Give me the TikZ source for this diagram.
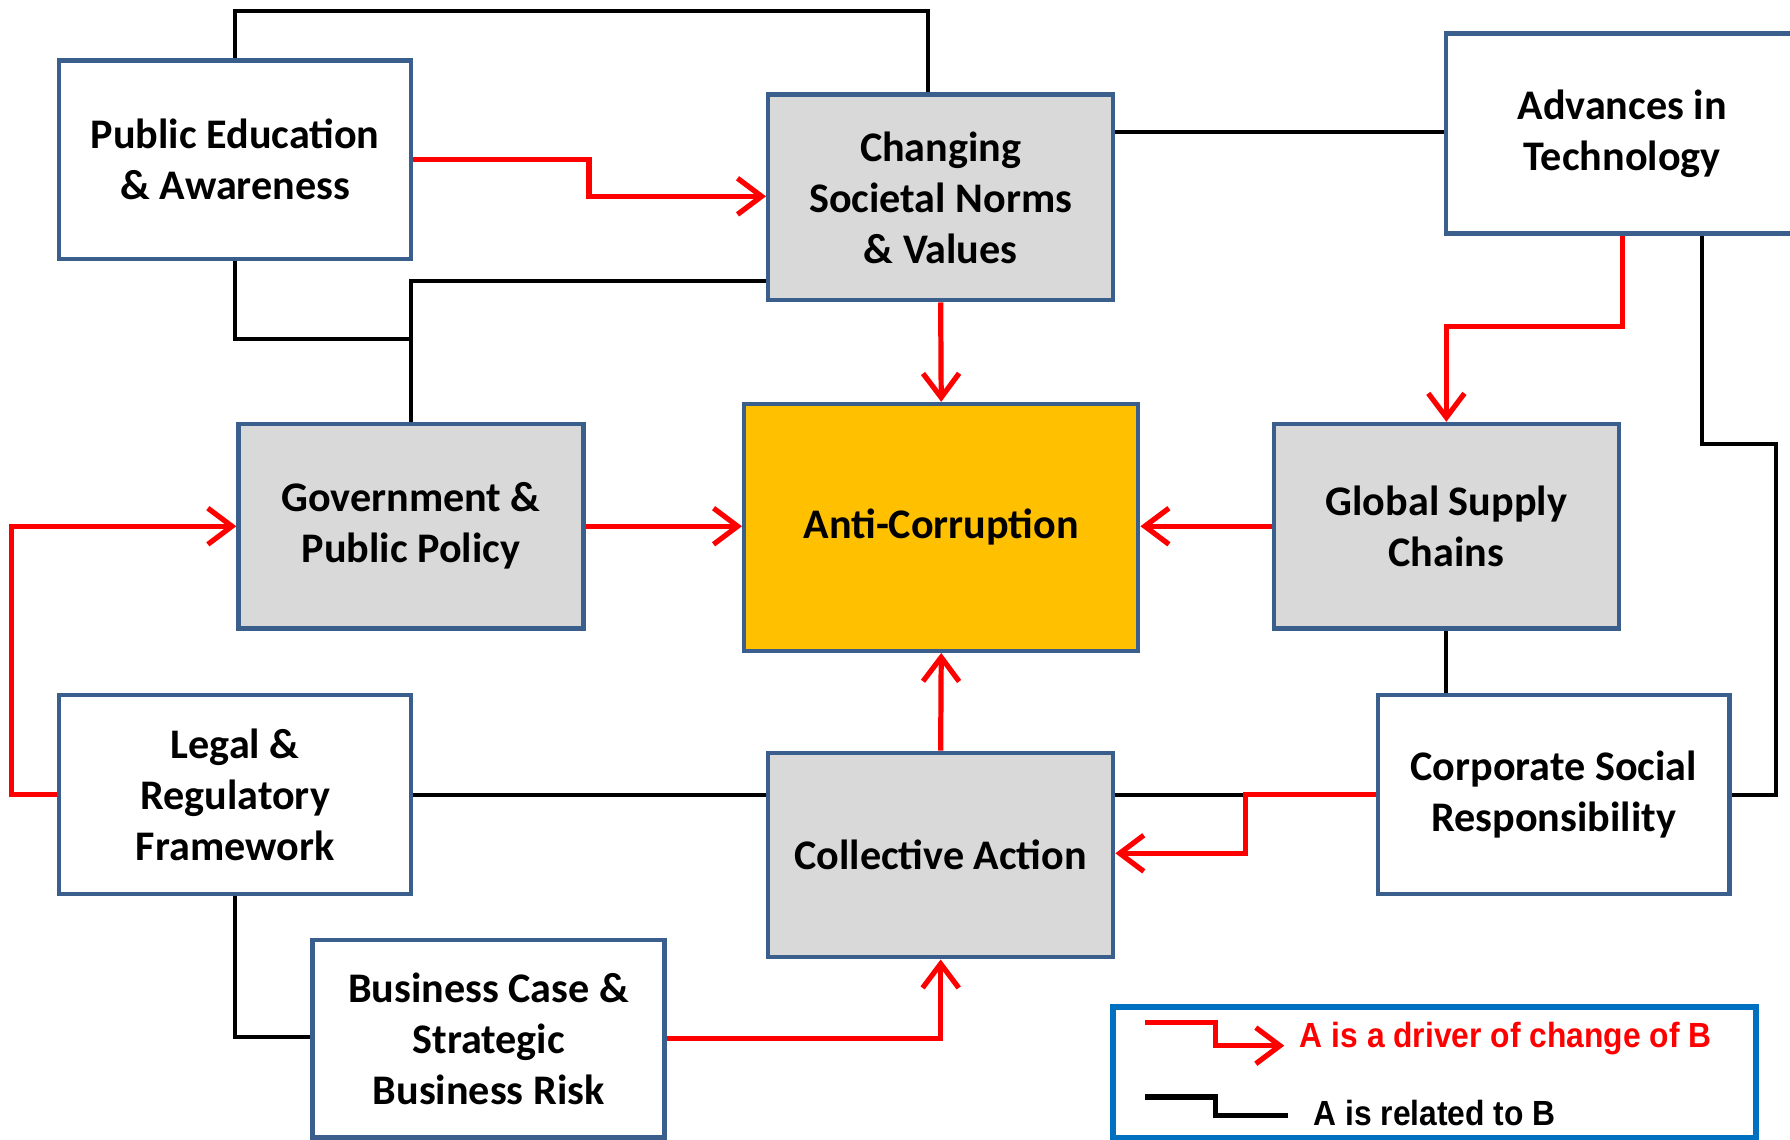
\documentclass[tikz,border=0pt]{standalone}
\usepackage{fontspec}
\setmainfont{Carlito}
\newfontfamily\legendfont{Liberation Sans}[FakeStretch=0.91]
\usepackage{tikz}
\usetikzlibrary{arrows.meta}
\definecolor{boxblue}{HTML}{3B5F8C}
\definecolor{boxgrey}{HTML}{D9D9D9}
\definecolor{antigold}{HTML}{FFC000}
\definecolor{legendblue}{HTML}{0070C0}
\def\boxfont{\fontsize{10.5}{12.7}\selectfont\bfseries}
\def\legfont{\legendfont\fontsize{8.7}{10}\selectfont\bfseries}

\begin{document}
\begin{tikzpicture}[x=0.01cm, y=-0.01cm,
	box/.style={draw=boxblue, line width=1.1pt, fill=white, minimum width=3.08cm, minimum height=1.74cm, inner sep=0pt, align=center, font=\boxfont},
	greybox/.style={box, fill=boxgrey, minimum width=3.02cm, minimum height=1.79cm},
	rel/.style={line width=1pt},
	drv/.style={red, line width=1.3pt, -{Straight Barb[length=6pt,width=9pt]}}]
			%%%%% START %%%%%
			\useasboundingbox (0,0) rectangle (1568,998);
			
			\node[box] (pubedu) at (206, 140) {Public Education\\\& Awareness};
			\node[greybox, minimum height=1.80cm] (norms) at (824, 173) {Changing\\Societal Norms\\\& Values};
			\node[box, minimum height=1.75cm] (tech) at (1421, 117) {Advances in\\Technology};
			
			\node[greybox] (gov) at (360, 461) {Government \&\\Public Policy};
			\node[box, fill=antigold, minimum width=3.45cm, minimum height=2.16cm] (anti) at (824.5, 462) {Anti-Corruption};
			\node[greybox] (supply) at (1267, 461) {Global Supply\\Chains};
			
			\node[box] (legal) at (206, 696) {Legal \&\\Regulatory\\Framework};
			\node[greybox] (coll) at (824, 749) {Collective Action};
			\node[box] (csr) at (1361, 696) {Corporate Social\\Responsibility};
			\node[box, minimum height=1.73cm] (biz) at (428, 910) {Business Case \&\\Strategic\\Business Risk};
			
			% related to
			\coordinate (topbend) at (813, 10);
			\draw[rel] (pubedu.north) |- (topbend) -- (topbend |- norms.north);
			\draw[rel] ([yshift=0.015cm]tech.west) -- ([yshift=0.015cm]tech.west -| norms.east);
			\coordinate (govbend) at (360, 246);
			\coordinate (edubend) at (360, 297);
			\draw[rel] (gov.north) -- (govbend) -- (govbend -| norms.west);
			\draw[rel] (pubedu.south) |- (edubend);
			\coordinate (techbend) at (1556, 389);
			\draw[rel] ([xshift=0.7cm]tech.south) |- (techbend) |- (csr.east);
			\draw[rel] (supply.south) -- (supply.south |- csr.north);
			\draw[rel] (legal.east) -- (legal.east -| coll.west);
			\draw[rel] (coll.east |- csr.west) -- (csr.west);
			\draw[rel] (legal.south) |- ([yshift=0.015cm]biz.west);
			
			% driver of change
			\draw[drv] (pubedu.east) -| (516, 172) -- (norms.west |- 0,172);
			\draw[drv] (norms.south) -- (anti.north);
			\draw[drv] (gov.east) -- (anti.west |- gov.east);
			\draw[drv] (supply.west) -- (anti.east |- supply.west);
			\coordinate (supbend) at (1267, 286);
			\draw[drv] (tech.south) |- (supbend) -- (supply.north);
			\draw[drv] (legal.west) -- (10, 696) |- (gov.west);
			\draw[drv] (coll.north) -- (anti.south);
			\draw[drv] (csr.west) -| (1091, 747.5) -- (coll.east |- 0,747.5);
			\draw[drv] (biz.east) -| (coll.south);
			
			% legend
			\node[draw=legendblue, line width=1.4pt, minimum width=5.63cm, minimum height=1.15cm, inner sep=0pt] (legend) at (1256.5, 939.5) {};
			\draw[red, line width=1.3pt, -{Straight Barb[length=6pt,width=9pt]}] (1003, 896) -- (1065, 896) -- (1065, 916) -- (1125, 916);
			\node[anchor=west, inner sep=0pt, red, font=\legfont] (lgdrv) at (1138, 910) {A is a driver of change of B};
			\draw[line width=1.3pt] (1003, 961) -- (1065, 961) -- (1065, 977) -- (1128, 977);
			\node[anchor=west, inner sep=0pt, font=\legfont] (lgrel) at (1150, 975) {A is related to B};
			%%%%% END %%%%%
\end{tikzpicture}
\end{document}
